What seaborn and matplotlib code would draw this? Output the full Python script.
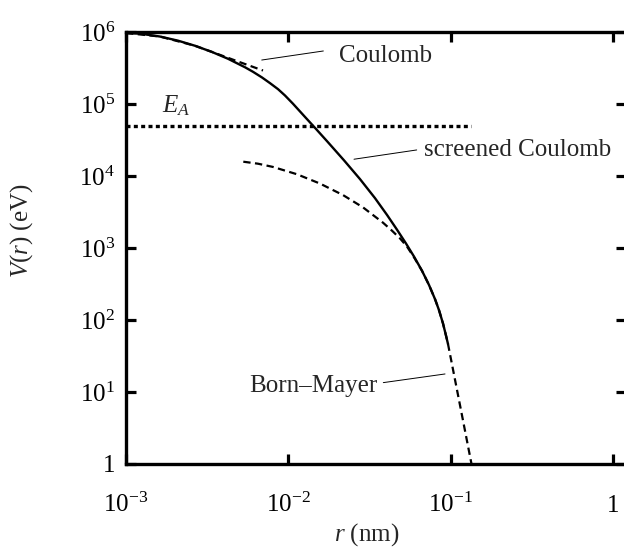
import matplotlib
matplotlib.use("Agg")
import matplotlib.pyplot as plt
from matplotlib.ticker import FixedLocator, FixedFormatter, NullLocator
import pandas as pd
import seaborn as sns

# Screened Coulomb potential (solid curve), r in nm, V in eV
r_screened = [0.0010000, 0.0012195, 0.0016201, 0.0020914, 0.0026618, 0.0033878,
              0.0042509, 0.0054115, 0.006061, 0.0068866, 0.007713, 0.0086424,
              0.009543, 0.010689, 0.012674, 0.014813, 0.017317, 0.022035,
              0.027654, 0.034215, 0.040566, 0.046749, 0.053115, 0.059505,
              0.066665, 0.073613, 0.080155, 0.084840, 0.089786, 0.093684,
              0.096380]
V_screened = [968500, 949200, 865000, 758000, 644000, 528000,
              424800, 323700, 280000, 233600, 194900, 160800,
              131200, 100800, 66110, 45030, 30480, 16520,
              9057, 4926, 2882, 1796, 1155, 760.6,
              482.5, 306.3, 195.1, 136.8, 89.4, 60.7,
              46.4]

# Bare Coulomb potential (short dashed branch)
r_coulomb = [0.0010000, 0.0016201, 0.0026618, 0.003436, 0.004898, 0.006984]
V_coulomb = [968500, 865000, 644000, 522500, 389400, 291900]

# Born-Mayer potential (dashed)
r_born_mayer = [0.005281, 0.006506, 0.008049, 0.011314, 0.015679, 0.021729,
                0.028857, 0.038329, 0.043545, 0.048780, 0.053873, 0.059505,
                0.066665, 0.073613, 0.080155, 0.084840, 0.089786, 0.093684,
                0.096380, 0.10644, 0.11757, 0.13452]
V_born_mayer = [15800, 14820, 13360, 10570, 7850, 5435,
                3667, 2246, 1739, 1359, 1046, 742.8,
                482.5, 306.3, 195.1, 136.8, 89.4, 60.7,
                46.4, 14.82, 4.73, 1.0]

# Energy level E_A (dotted)
r_EA = [0.001, 0.1345]
E_A = 5.0e4

x_ticks = [1e-3, 1e-2, 1e-1, 1]
x_tick_labels = [r"$\mathdefault{10^{-3}}$", r"$\mathdefault{10^{-2}}$",
                 r"$\mathdefault{10^{-1}}$", r"$\mathdefault{1}$"]
y_ticks = [1, 1e1, 1e2, 1e3, 1e4, 1e5, 1e6]
y_tick_labels = [r"$\mathdefault{1}\;\,$", r"$\mathdefault{10^{1}}$",
                 r"$\mathdefault{10^{2}}$", r"$\mathdefault{10^{3}}$",
                 r"$\mathdefault{10^{4}}$", r"$\mathdefault{10^{5}}$",
                 r"$\mathdefault{10^{6}}$"]

sns.set_theme(style="ticks")
plt.rcParams["font.family"] = ["Liberation Serif", "DejaVu Serif"]
plt.rcParams["mathtext.fontset"] = "custom"
plt.rcParams["mathtext.rm"] = "Liberation Serif"
plt.rcParams["mathtext.it"] = "Liberation Serif:italic"
plt.rcParams["mathtext.bf"] = "Liberation Serif:bold"

FS = 18
fig = plt.figure(figsize=(6.24, 5.48), dpi=100)
ax = fig.add_axes([126 / 624, 1 - 464 / 548, 499.5 / 624, 432 / 548])
ax.set_xscale("log")
ax.set_yscale("log")

df_s = pd.DataFrame({"r": r_screened, "V": V_screened})
df_c = pd.DataFrame({"r": r_coulomb, "V": V_coulomb})
df_b = pd.DataFrame({"r": r_born_mayer, "V": V_born_mayer})
df_e = pd.DataFrame({"r": r_EA, "V": [E_A, E_A]})

dash = (0, (3.3, 2.0))
sns.lineplot(data=df_c, x="r", y="V", ax=ax, color="black", lw=1.6,
             linestyle=dash, sort=False, estimator=None)
sns.lineplot(data=df_b, x="r", y="V", ax=ax, color="black", lw=1.6,
             linestyle=dash, sort=False, estimator=None)
sns.lineplot(data=df_s, x="r", y="V", ax=ax, color="black", lw=1.7,
             sort=False, estimator=None)
sns.lineplot(data=df_e, x="r", y="V", ax=ax, color="black", lw=2.4,
             linestyle=(0, (1.2, 1.0)), sort=False, estimator=None)

# leader lines and labels
ax.plot([0.00686, 0.01644], [4.08e5, 5.45e5], color="black", lw=0.7)
ax.plot([0.0254, 0.0618], [1.71e4, 2.30e4], color="black", lw=0.7)
ax.plot([0.0385, 0.0924], [13.5, 17.8], color="black", lw=0.7)

ax.text(0.0206, 3.83e5, "Coulomb", fontsize=FS, ha="left", va="baseline")
ax.text(0.0685, 1.9e4, "screened Coulomb", fontsize=FS, ha="left", va="baseline")
ax.text(0.00575, 10.0, "Born\u2013Mayer", fontsize=FS, ha="left", va="baseline")
ax.text(0.00166, 7.74e4, r"$E_A$", fontsize=FS, ha="left", va="baseline")

ax.set_xlim(1e-3, 10 ** 0.0776)
ax.set_ylim(1, 1e6)

ax.xaxis.set_major_locator(FixedLocator(x_ticks))
ax.xaxis.set_major_formatter(FixedFormatter(x_tick_labels))
ax.yaxis.set_major_locator(FixedLocator(y_ticks))
ax.yaxis.set_major_formatter(FixedFormatter(y_tick_labels))
ax.xaxis.set_minor_locator(NullLocator())
ax.yaxis.set_minor_locator(NullLocator())

ax.tick_params(which="major", direction="in", length=7.5, width=2.3,
               top=True, right=True, labelsize=FS, colors="black")
ax.tick_params(axis="x", pad=34.5)
ax.tick_params(axis="y", pad=8)
for t in ax.xaxis.get_major_ticks():
    t.label1.set_verticalalignment("baseline")

for s in ax.spines.values():
    s.set_linewidth(2.4)
    s.set_color("black")
    s.set_visible(True)

ax.set_xlabel(r"$r$ (nm)", fontsize=FS)
ax.set_ylabel(r"$V(r)$ (eV)", fontsize=FS)
ax.xaxis.label.set_verticalalignment("baseline")
ax.xaxis.set_label_coords(0.4825, -(541 - 464) / 432)
ax.yaxis.set_label_coords(-0.182, 0.539)
ax.grid(False)
ax.set_facecolor("white")
fig.patch.set_facecolor("white")

fig.savefig("out.png", dpi=100)
